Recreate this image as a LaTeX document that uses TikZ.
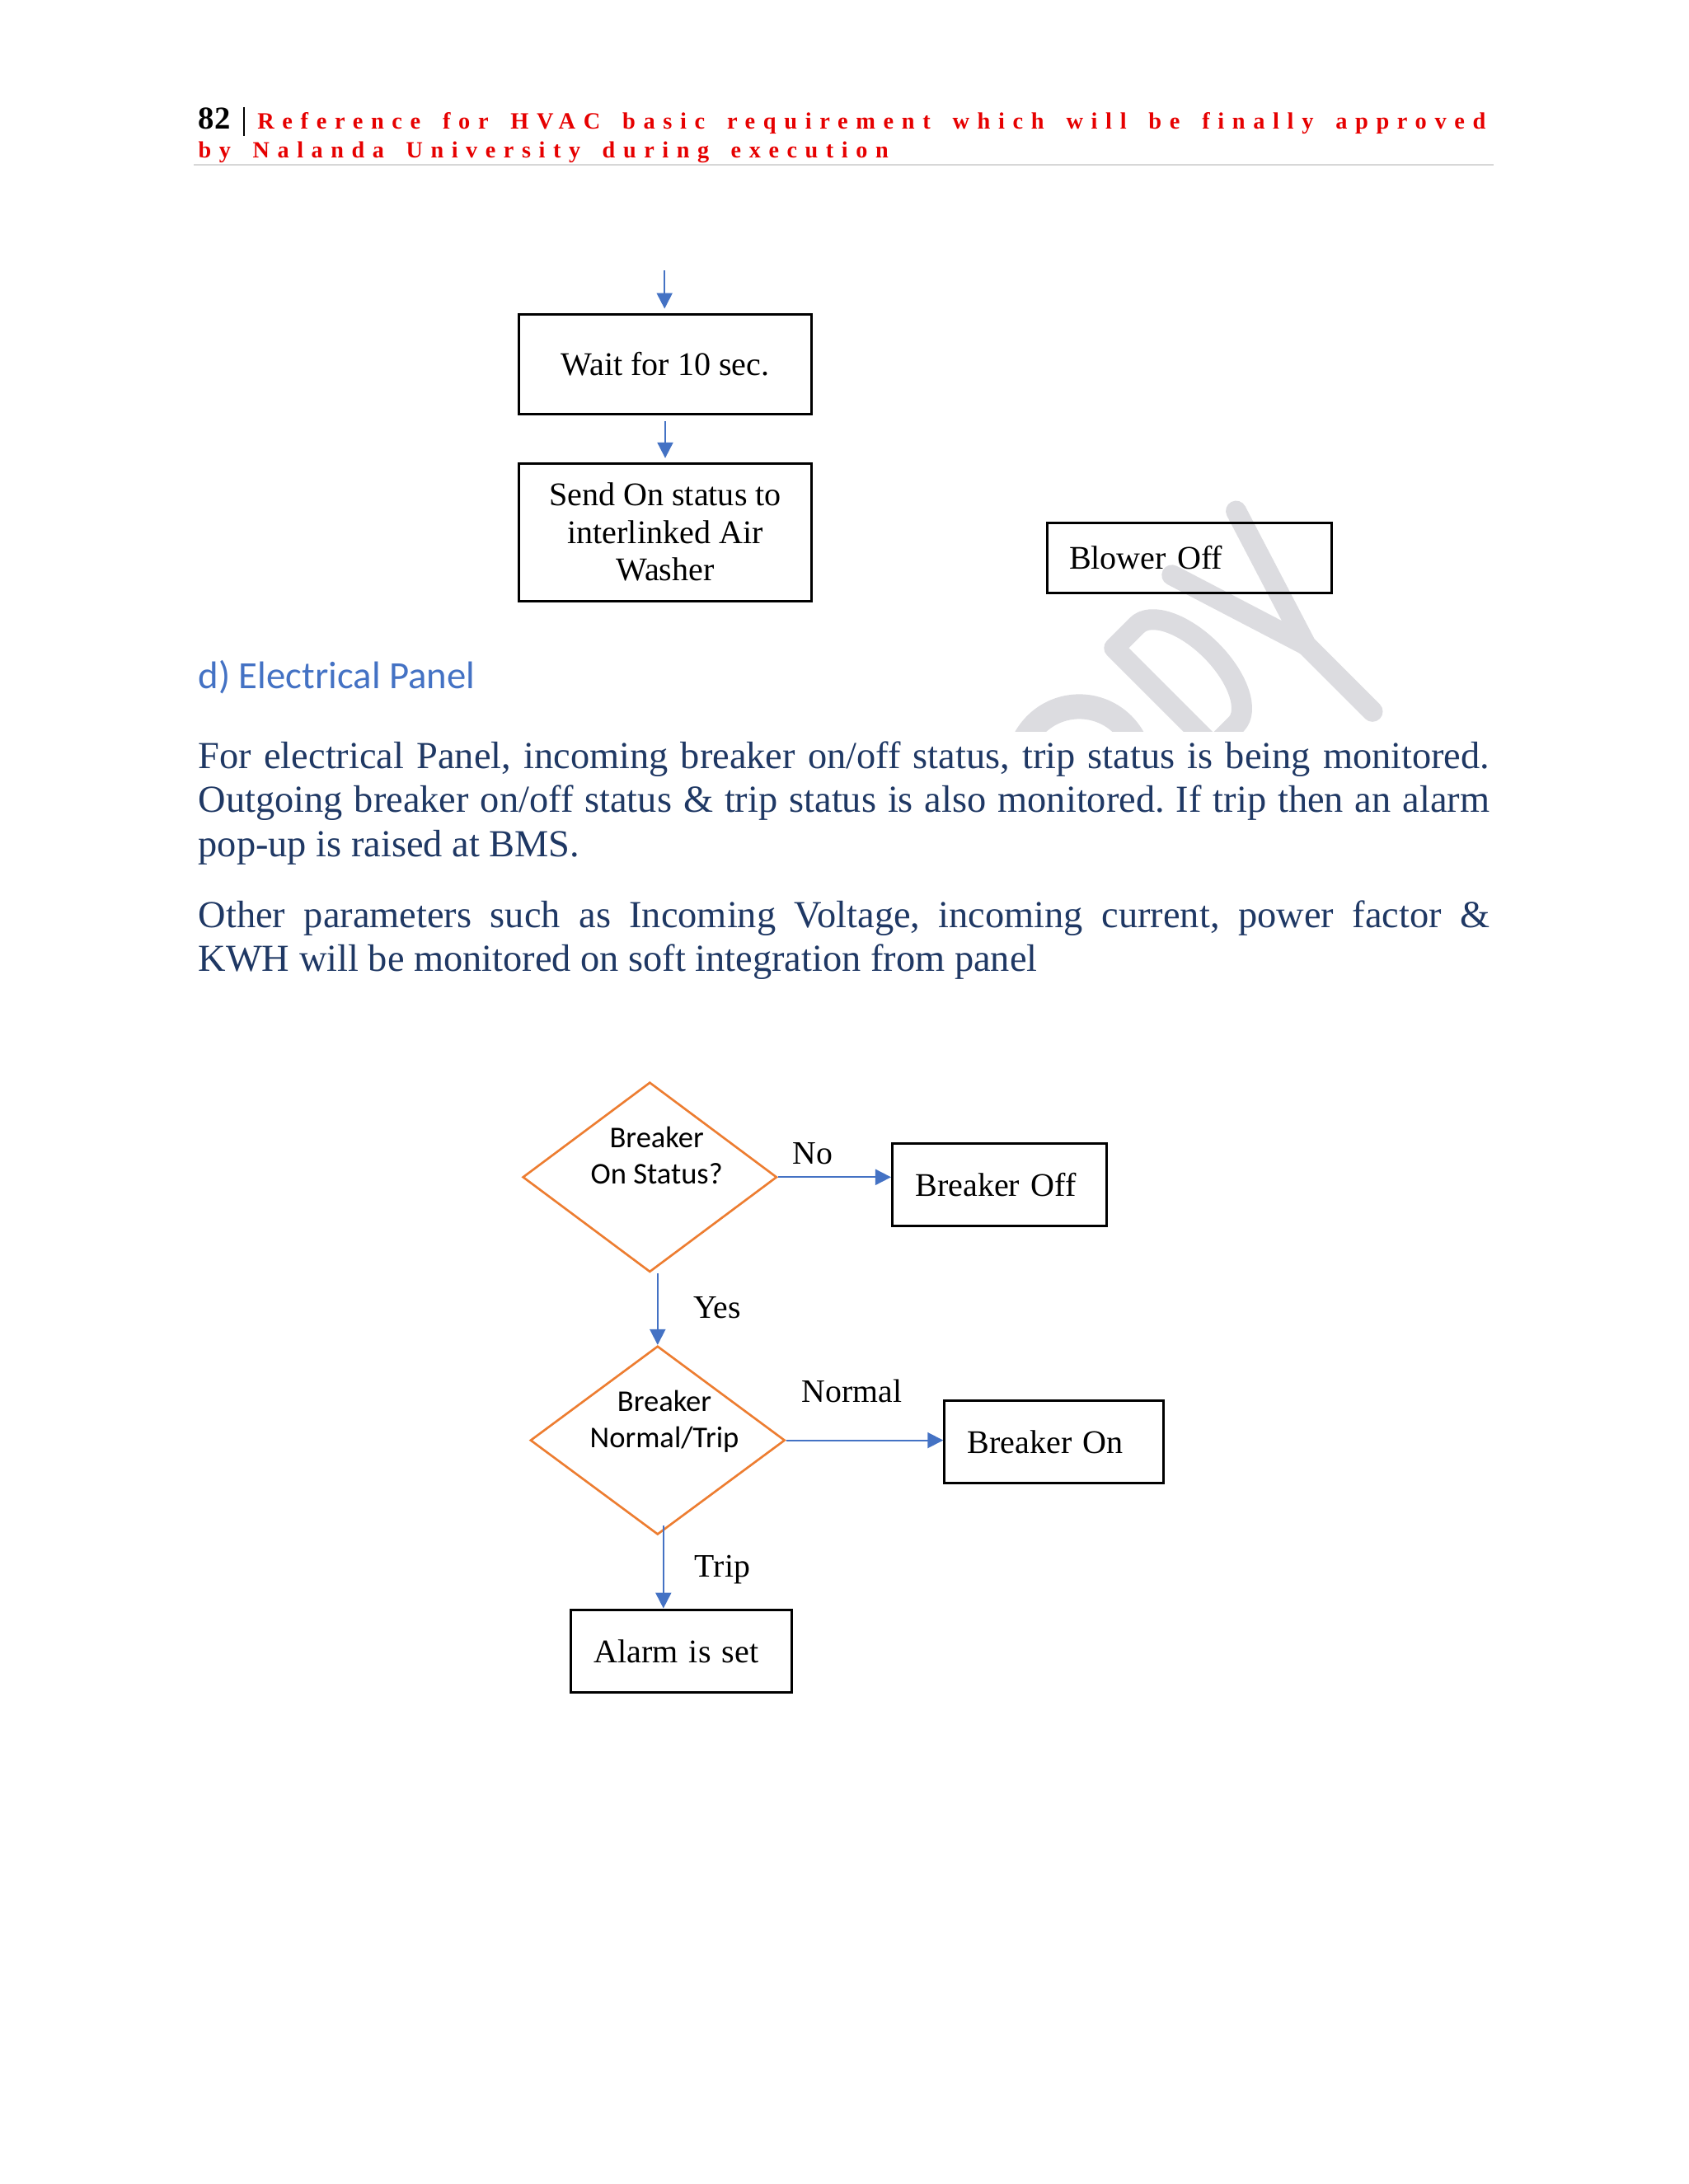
\documentclass[tikz,border=0pt]{standalone}
\usepackage{fontspec}
\usepackage{graphicx}
\setmainfont{Liberation Serif}
\newfontfamily\calibri{Carlito}
\newfontfamily\hdrfont[LetterSpace=34,WordSpace=1.6]{Liberation Serif}
\usetikzlibrary{shapes.geometric,arrows.meta}
\definecolor{flowblue}{RGB}{68,114,196}
\definecolor{deciorange}{RGB}{237,125,49}
\definecolor{headblue}{RGB}{68,114,196}
\definecolor{bodynavy}{RGB}{31,56,100}
\definecolor{hdrred}{RGB}{230,0,0}
\definecolor{wmgray}{RGB}{220,220,224}
\definecolor{rulegray}{RGB}{215,215,215}
\frenchspacing
\tikzset{
  stepbox/.style={draw=black, line width=0.85pt, inner sep=0pt, align=center, font=\fontsize{11.4}{13}\selectfont},
  padbox/.style={stepbox, inner xsep=0.28cm, align=left},
  decision/.style={diamond, draw=deciorange, line width=0.75pt, inner sep=0pt},
  dectext/.style={align=center, inner sep=0pt, font=\calibri\fontsize{10.4}{12.4}\selectfont},
  flow/.style={draw=flowblue, line width=0.55pt, -{Triangle[width=5.4pt,length=5.4pt]}},
  lbl/.style={inner sep=0pt, font=\fontsize{11.3}{13}\selectfont},
  hdr/.style={inner sep=0pt, anchor=base west, text=hdrred, font=\hdrfont\bfseries\fontsize{6.8}{8}\selectfont},
  para/.style={inner sep=0pt, anchor=north west, text width=15.665cm, align=justify, text=bodynavy, font=\fontsize{13.2}{15.2}\selectfont}
}
\begin{document}
\begin{tikzpicture}
    \useasboundingbox (0,0) rectangle (20.48,-26.5);
    \fill[white] (0,0) rectangle (20.48,-26.5);
    \begin{scope}
        \clip (12.0,-5.9) rectangle (17.5,-8.87);
        \begin{scope}[shift={(16.65,-8.633)}, rotate=45, color=wmgray, line width=0.25cm, line cap=round, line join=round]
            \draw (0,0) -- (0,1.14) -- (0.55,2.89);
            \draw (0,1.14) -- (-0.55,2.89);
            \draw (-1.67,-0.6) -- (-1.67,2.76) -- (-1.28,2.76) arc[start angle=90, end angle=-90, x radius=0.42, y radius=0.85] -- (-1.67,1.06);
            \draw[line width=0.3cm] (-3.00,2.03) circle[radius=0.745];
        \end{scope}
    \end{scope}
    \node[inner sep=0pt, anchor=base west, font=\bfseries\fontsize{11}{13}\selectfont] (pgno) at (2.40,-1.567) {82};
    \draw[line width=0.6pt] (2.96,-1.30) -- (2.96,-1.65);
    \node[hdr] (hdrA) at (3.116,-1.567) {\resizebox{14.90cm}{!}{Reference for HVAC basic requirement which will be finally approved}};
    \node[hdr] (hdrB) at (2.40,-1.917) {\resizebox{8.37cm}{!}{by Nalanda University during execution}};
    \draw[rulegray, line width=0.45pt] (2.35,-2.00) -- (18.12,-2.00);
    \node[stepbox, minimum width=3.549cm, minimum height=1.217cm] (wait) at (8.07,-4.419) {Wait for 10 sec.};
    \node[stepbox, minimum width=3.549cm, minimum height=1.667cm] (send) at (8.07,-6.457) {Send On status to\\interlinked Air\\Washer};
    \node[padbox, inner xsep=0.27cm, text width=2.91cm, minimum height=0.853cm] (blower) at (14.425,-6.767) {Blower Off};
    \coordinate (feed) at (8.062,-3.283);
    \draw[flow, shorten >=0.05cm] (feed) -- (feed |- wait.north);
    \draw[flow, shorten <=0.07cm, shorten >=0.05cm] (wait.south) -- (send.north);
    \node[inner sep=0pt, anchor=base west, text=headblue, font=\calibri\fontsize{13.3}{16}\selectfont] (head) at (2.40,-8.35) {d) Electrical Panel};
    \node[para] (paraA) at (2.40,-8.99) {For electrical Panel, incoming breaker on/off status, trip status is being monitored.\linebreak Outgoing breaker on/off status \& trip status is also monitored. If trip then an alarm\linebreak pop-up is raised at BMS.};
    \node[para] (paraB) at (2.40,-10.92) {Other parameters such as Incoming Voltage, incoming current, power factor \&\linebreak KWH will be monitored on soft integration from panel};
    \node[decision, minimum width=3.084cm, minimum height=2.303cm] (dec1) at (7.883,-14.283) {};
    \node[dectext] (dec1txt) at (7.967,-14.02) {Breaker\\On Status?};
    \node[padbox, text width=2.041cm, minimum height=1.005cm] (bkoff) at (12.125,-14.373) {Breaker Off};
    \node[decision, minimum width=3.089cm, minimum height=2.288cm] (dec2) at (7.978,-17.476) {};
    \node[dectext] (dec2txt) at (8.06,-17.25) {Breaker\\Normal/Trip};
    \node[padbox, text width=2.097cm, minimum height=1.005cm] (bkon) at (12.786,-17.497) {Breaker On};
    \node[padbox, text width=2.123cm, minimum height=1.006cm] (alarm) at (8.263,-20.033) {Alarm is set};
    \draw[flow] (dec1.east) -- (dec1.east -| bkoff.west);
    \draw[flow] (dec1.south -| dec2.north) -- (dec2.north);
    \draw[flow] (dec2.east) -- (dec2.east -| bkon.west);
    \draw[flow] ([xshift=0.07cm,yshift=0.12cm]dec2.south) -- ([xshift=0.07cm]dec2.south |- alarm.north);
    \node[lbl] (lblno) at (9.859,-13.994) {No};
    \node[lbl] (lblyes) at (8.699,-15.87) {Yes};
    \node[lbl] (lblnormal) at (10.336,-16.88) {Normal};
    \node[lbl] (lbltrip) at (8.764,-19.043) {Trip};
\end{tikzpicture}
\end{document}
